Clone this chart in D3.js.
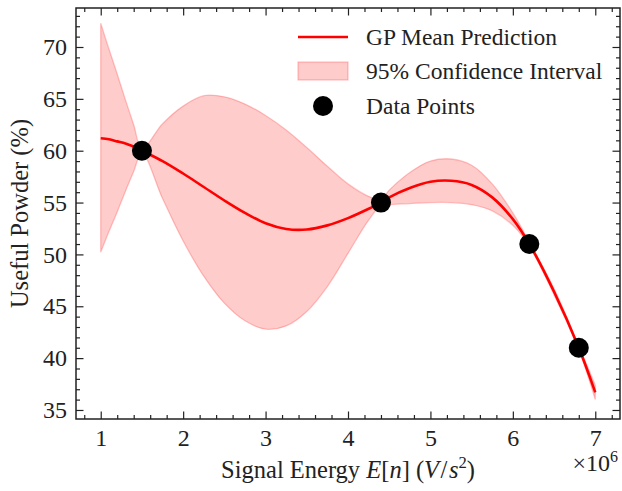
<!DOCTYPE html>
<html><head><meta charset="utf-8">
<script src="https://cdn.jsdelivr.net/npm/d3@7"></script>
<style>
body{margin:0;background:#fff}
svg{display:block}
text{font-family:"Liberation Serif","Times New Roman",serif;fill:#222}
</style>
</head><body>
<svg id="chart" width="622" height="491"></svg>
<script>
// ---- data ----
const xGrid     = [1.0, 1.1, 1.2, 1.3, 1.4, 1.5, 1.75, 2.0, 2.25, 2.5, 2.75, 3.0, 3.25, 3.5, 3.75, 4.0, 4.25, 4.4, 4.5, 4.75, 5.0, 5.25, 5.5, 5.75, 6.0, 6.2, 6.5, 6.8, 7.0];
const meanVals  = [61.2, 61.1, 60.9, 60.7, 60.4, 60.0, 59.0, 57.8, 56.5, 55.2, 54.0, 53.0, 52.45, 52.4, 52.8, 53.5, 54.4, 55.0, 55.5, 56.4, 57.0, 57.1, 56.7, 55.5, 53.4, 51.0, 46.4, 41.0, 36.7];
const upperVals = [72.3, 69.8, 67.4, 64.9, 62.5, 60.2, 62.6, 64.3, 65.3, 65.2, 64.5, 63.4, 62.0, 60.3, 58.5, 56.8, 55.6, 55.3, 56.2, 57.9, 59.0, 59.2, 58.6, 56.8, 54.0, 51.2, 46.7, 41.2, 37.4];
const lowerVals = [50.2, 52.2, 54.1, 56.1, 58.0, 59.8, 55.4, 51.3, 47.9, 45.3, 43.6, 42.8, 43.1, 44.5, 46.9, 50.1, 53.3, 54.7, 54.8, 54.9, 55.0, 55.0, 54.8, 54.2, 52.8, 50.8, 46.1, 40.8, 36.0];
const pointX    = [1.5, 4.4, 6.2, 6.8];
const pointY    = [60, 55, 51, 41];
const xTicks    = [1, 2, 3, 4, 5, 6, 7];
const yTicks    = [35, 40, 45, 50, 55, 60, 65, 70];
const legendLabels = ["GP Mean Prediction", "95% Confidence Interval", "Data Points"];

// ---- layout ----
const pL = 76, pR = 620, pT = 8, pB = 419;
const FS = 24, FSL = 24.5, FSG = 23.5;
const svg = d3.select("#chart");

const x = d3.scaleLinear().domain([0.7, 7.3]).range([pL, pR]);
const y = d3.scaleLinear().domain([34.13, 73.76]).range([pB, pT]);

const series = xGrid.map((v, i) => ({x: v, m: meanVals[i], lo: lowerVals[i], hi: upperVals[i]}));
const pts = pointX.map((v, i) => ({x: v, y: pointY[i]}));

svg.append("clipPath").attr("id", "plotclip").append("rect")
  .attr("x", pL).attr("y", pT).attr("width", pR - pL).attr("height", pB - pT);

const g = svg.append("g").attr("clip-path", "url(#plotclip)");

// band
const area = d3.area().x(d => x(d.x)).y0(d => y(d.lo)).y1(d => y(d.hi)).curve(d3.curveCatmullRom.alpha(0.5));
g.append("path").datum(series).attr("d", area)
  .attr("fill", "rgba(255,0,0,0.2)").attr("stroke", "rgba(255,0,0,0.22)").attr("stroke-width", 1.3);

// mean line
const line = d3.line().x(d => x(d.x)).y(d => y(d.m)).curve(d3.curveCatmullRom.alpha(0.5));
g.append("path").datum(series).attr("d", line)
  .attr("fill", "none").attr("stroke", "#ff0000").attr("stroke-width", 2.6);

// points
svg.append("g").selectAll("circle").data(pts).join("circle")
  .attr("cx", d => x(d.x)).attr("cy", d => y(d.y)).attr("r", 10).attr("fill", "#000");

// ---- axes ----
const xMinor = d3.range(8, 73, 2).map(v => v / 10).filter(v => !xTicks.includes(v));
const yMinor = d3.range(35, 74, 1).filter(v => !yTicks.includes(v));
const MAJ = 7.5, MIN = 4;

function styleAxis(sel) {
  sel.select(".domain").remove();
  sel.selectAll("line").attr("stroke", "#222").attr("stroke-width", 1.2);
  sel.selectAll("text").attr("font-size", FS).attr("fill", "#222")
     .attr("font-family", '"Liberation Serif","Times New Roman",serif');
}

svg.append("g").attr("transform", `translate(0,${pB})`)
  .call(d3.axisBottom(x).tickValues(xTicks).tickFormat(d3.format("d")).tickSize(-MAJ).tickPadding(10)).call(styleAxis);
svg.append("g").attr("transform", `translate(0,${pB})`)
  .call(d3.axisBottom(x).tickValues(xMinor).tickFormat("").tickSize(-MIN)).call(styleAxis);
svg.append("g").attr("transform", `translate(0,${pT})`)
  .call(d3.axisTop(x).tickValues(xTicks).tickFormat("").tickSize(-MAJ)).call(styleAxis);
svg.append("g").attr("transform", `translate(0,${pT})`)
  .call(d3.axisTop(x).tickValues(xMinor).tickFormat("").tickSize(-MIN)).call(styleAxis);

svg.append("g").attr("transform", `translate(${pL},0)`)
  .call(d3.axisLeft(y).tickValues(yTicks).tickFormat(d3.format("d")).tickSize(-MAJ).tickPadding(9)).call(styleAxis);
svg.append("g").attr("transform", `translate(${pL},0)`)
  .call(d3.axisLeft(y).tickValues(yMinor).tickFormat("").tickSize(-MIN)).call(styleAxis);
svg.append("g").attr("transform", `translate(${pR},0)`)
  .call(d3.axisRight(y).tickValues(yTicks).tickFormat("").tickSize(-MAJ)).call(styleAxis);
svg.append("g").attr("transform", `translate(${pR},0)`)
  .call(d3.axisRight(y).tickValues(yMinor).tickFormat("").tickSize(-MIN)).call(styleAxis);

// frame
svg.append("rect").attr("x", pL).attr("y", pT).attr("width", pR - pL).attr("height", pB - pT)
  .attr("fill", "none").attr("stroke", "#222").attr("stroke-width", 1.5);

// ---- labels ----
const xl = svg.append("text").attr("x", (pL + pR) / 2).attr("y", 478)
  .attr("text-anchor", "middle").attr("font-size", FSL);
xl.append("tspan").text("Signal Energy ");
xl.append("tspan").attr("font-style", "italic").text("E");
xl.append("tspan").text("[");
xl.append("tspan").attr("font-style", "italic").text("n");
xl.append("tspan").text("] (");
xl.append("tspan").attr("font-style", "italic").text("V");
xl.append("tspan").attr("dx", 1.5).text("/");
xl.append("tspan").attr("dx", 1.5).attr("font-style", "italic").text("s");
xl.append("tspan").attr("font-size", FSL * 0.68).attr("dy", -10).text("2");
xl.append("tspan").attr("dy", 10).text(")");

const sc = svg.append("text").attr("x", 618).attr("y", 471).attr("text-anchor", "end").attr("font-size", FS);
sc.append("tspan").text("×10");
sc.append("tspan").attr("font-size", 16).attr("dy", -9).text("6");

svg.append("text").attr("transform", `translate(28,${(pT + pB) / 2}) rotate(-90)`)
  .attr("text-anchor", "middle").attr("font-size", FSL).text("Useful Powder (%)");

// ---- legend ----
const lg = svg.append("g");
const rowY = [37, 71, 106];
lg.append("line").attr("x1", 298).attr("x2", 348).attr("y1", rowY[0]).attr("y2", rowY[0])
  .attr("stroke", "#ff0000").attr("stroke-width", 2.6);
lg.append("rect").attr("x", 298).attr("y", rowY[1] - 9).attr("width", 50).attr("height", 18)
  .attr("fill", "rgba(255,0,0,0.2)").attr("stroke", "rgba(255,0,0,0.22)").attr("stroke-width", 1.3);
lg.append("circle").attr("cx", 323).attr("cy", rowY[2]).attr("r", 10).attr("fill", "#000");
lg.selectAll("text.lab").data(legendLabels).join("text").attr("class", "lab")
  .attr("x", 366).attr("y", (d, i) => rowY[i] + 8).attr("font-size", FSG).text(d => d);
</script>
</body></html>
